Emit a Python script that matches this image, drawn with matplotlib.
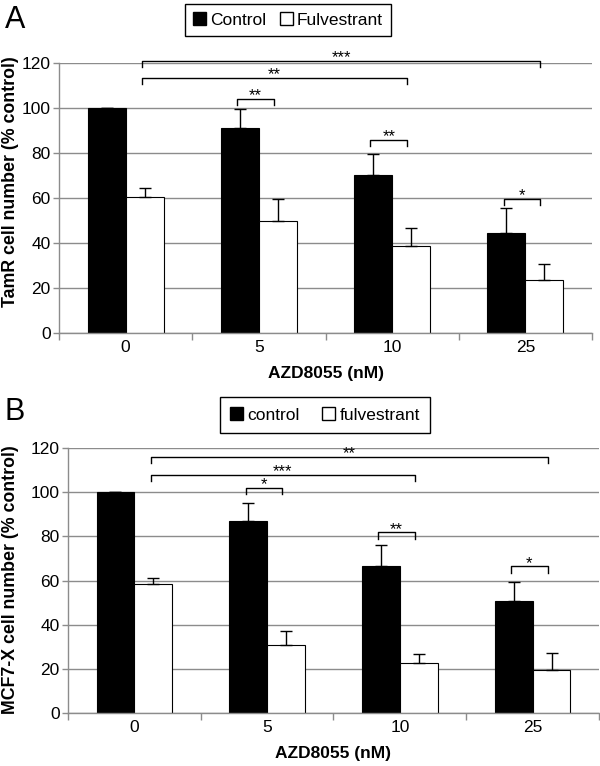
import matplotlib
matplotlib.use("Agg")
import matplotlib.pyplot as plt
from matplotlib.patches import Patch

plt.rcParams['font.family'] = ['Liberation Sans', 'DejaVu Sans']

# Shared x categories
doses = ["0", "5", "10", "25"]

# Panel A values (% control)
a_control = [100, 91, 70, 44.6]
a_control_err = [0, 8.5, 9.5, 11]
a_fulv = [60.3, 49.6, 38.5, 23.5]
a_fulv_err = [4, 10, 8, 7]

# Panel B values (% control)
b_control = [100, 87, 66.5, 50.5]
b_control_err = [0, 8, 9.7, 9]
b_fulv = [58.3, 30.6, 22.7, 19.5]
b_fulv_err = [3, 6.7, 4.2, 7.5]

# significance brackets: (group, bar, group, bar, height, label); bar 0 = control, 1 = fulvestrant
a_sig = [(0, 1, 3, 1, 121, "***"), (0, 1, 2, 1, 113.4, "**"), (1, 0, 1, 1, 104, "**"),
         (2, 0, 2, 1, 85.7, "**"), (3, 0, 3, 1, 59.5, "*")]
b_sig = [(0, 1, 3, 1, 115.9, "**"), (0, 1, 2, 1, 107.9, "***"), (1, 0, 1, 1, 101.9, "*"),
         (2, 0, 2, 1, 81.8, "**"), (3, 0, 3, 1, 66.4, "*")]

W = 0.285
GRID = "#8c8c8c"


def draw_panel(ax, ctrl, ctrl_err, fulv, fulv_err, sig):
    x = list(range(len(doses)))
    xc = [i - W / 2 for i in x]
    xf = [i + W / 2 for i in x]
    ax.set_axisbelow(True)
    ax.yaxis.grid(True, color=GRID, linewidth=1.0)
    ax.bar(xc, ctrl, W, color="black", edgecolor="black", linewidth=0.8, zorder=2)
    ax.bar(xf, fulv, W, color="white", edgecolor="black", linewidth=0.8, zorder=2)
    ax.errorbar(xc, ctrl, yerr=[[0] * 4, ctrl_err], fmt="none", ecolor="black",
                elinewidth=1.0, capsize=4, capthick=1.0, zorder=3)
    ax.errorbar(xf, fulv, yerr=[[0] * 4, fulv_err], fmt="none", ecolor="black",
                elinewidth=1.0, capsize=4, capthick=1.0, zorder=3)

    # brackets with stars
    pos = [xc, xf]
    for g1, b1, g2, b2, h, lab in sig:
        x1 = pos[b1][g1] - 0.02
        x2 = pos[b2][g2] - 0.03
        ax.plot([x1, x1, x2, x2], [h - 2.8, h, h, h - 2.8], color="black",
                linewidth=1.0, clip_on=False, zorder=4)
        ax.text((x1 + x2) / 2, h - 0.6, lab, ha="center", va="baseline",
                fontsize=12, clip_on=False)

    ax.set_xlim(-0.5, 3.5)
    ax.set_ylim(0, 120)
    ax.set_yticks(range(0, 121, 20))
    ax.set_xticks(x)
    ax.set_xticklabels(doses)
    ax.set_xticks([-0.5, 0.5, 1.5, 2.5, 3.5], minor=True)
    ax.tick_params(axis="x", which="major", length=0, pad=5, labelsize=12.5)
    ax.tick_params(axis="x", which="minor", length=5, color=GRID, width=1.0)
    ax.tick_params(axis="y", length=4, color=GRID, width=1.0, pad=2, labelsize=12.5)
    for s in ["top", "right"]:
        ax.spines[s].set_visible(False)
    for s in ["left", "bottom"]:
        ax.spines[s].set_color(GRID)
        ax.spines[s].set_linewidth(1.0)
    ax.set_xlabel("AZD8055 (nM)", fontsize=12.5, fontweight="bold", labelpad=8)


fig = plt.figure(figsize=(6.0, 7.66), dpi=100)

axA = fig.add_axes([0.0983, 0.5653, 0.8884, 0.3525])
draw_panel(axA, a_control, a_control_err, a_fulv, a_fulv_err, a_sig)
fig.text(0.017, 1 - 182 / 766, "TamR cell number (% control)", rotation=90,
         ha="center", va="center", fontsize=12.8, fontweight="bold")

axB = fig.add_axes([0.1133, 0.0692, 0.885, 0.3459])
draw_panel(axB, b_control, b_control_err, b_fulv, b_fulv_err, b_sig)
fig.text(0.017, 1 - 580 / 766, "MCF7-X cell number (% control)", rotation=90,
         ha="center", va="center", fontsize=12.8, fontweight="bold")

fig.text(0.008, 1 - 20 / 766, "A", fontsize=22, ha="left", va="center")
fig.text(0.008, 1 - 412 / 766, "B", fontsize=22, ha="left", va="center")

legA = fig.legend(handles=[Patch(facecolor="black", edgecolor="black", label="Control"),
                           Patch(facecolor="white", edgecolor="black", label="Fulvestrant")],
                  loc="center", bbox_to_anchor=(288 / 600, 1 - 20 / 766), ncol=2,
                  fontsize=12.5, frameon=True, fancybox=False, framealpha=1,
                  edgecolor="black", handlelength=0.75, handleheight=0.75,
                  handletextpad=0.25, columnspacing=0.75, borderpad=0.45, borderaxespad=0)
legA.get_frame().set_linewidth(1.0)

legB = fig.legend(handles=[Patch(facecolor="black", edgecolor="black", label="control"),
                           Patch(facecolor="white", edgecolor="black", label="fulvestrant")],
                  loc="center", bbox_to_anchor=(325 / 600, 1 - 415 / 766), ncol=2,
                  fontsize=12.5, frameon=True, fancybox=False, framealpha=1,
                  edgecolor="black", handlelength=0.75, handleheight=0.75,
                  handletextpad=0.25, columnspacing=1.3, borderpad=0.6, borderaxespad=0)
legB.get_frame().set_linewidth(1.0)

fig.savefig("out.png", dpi=100)
